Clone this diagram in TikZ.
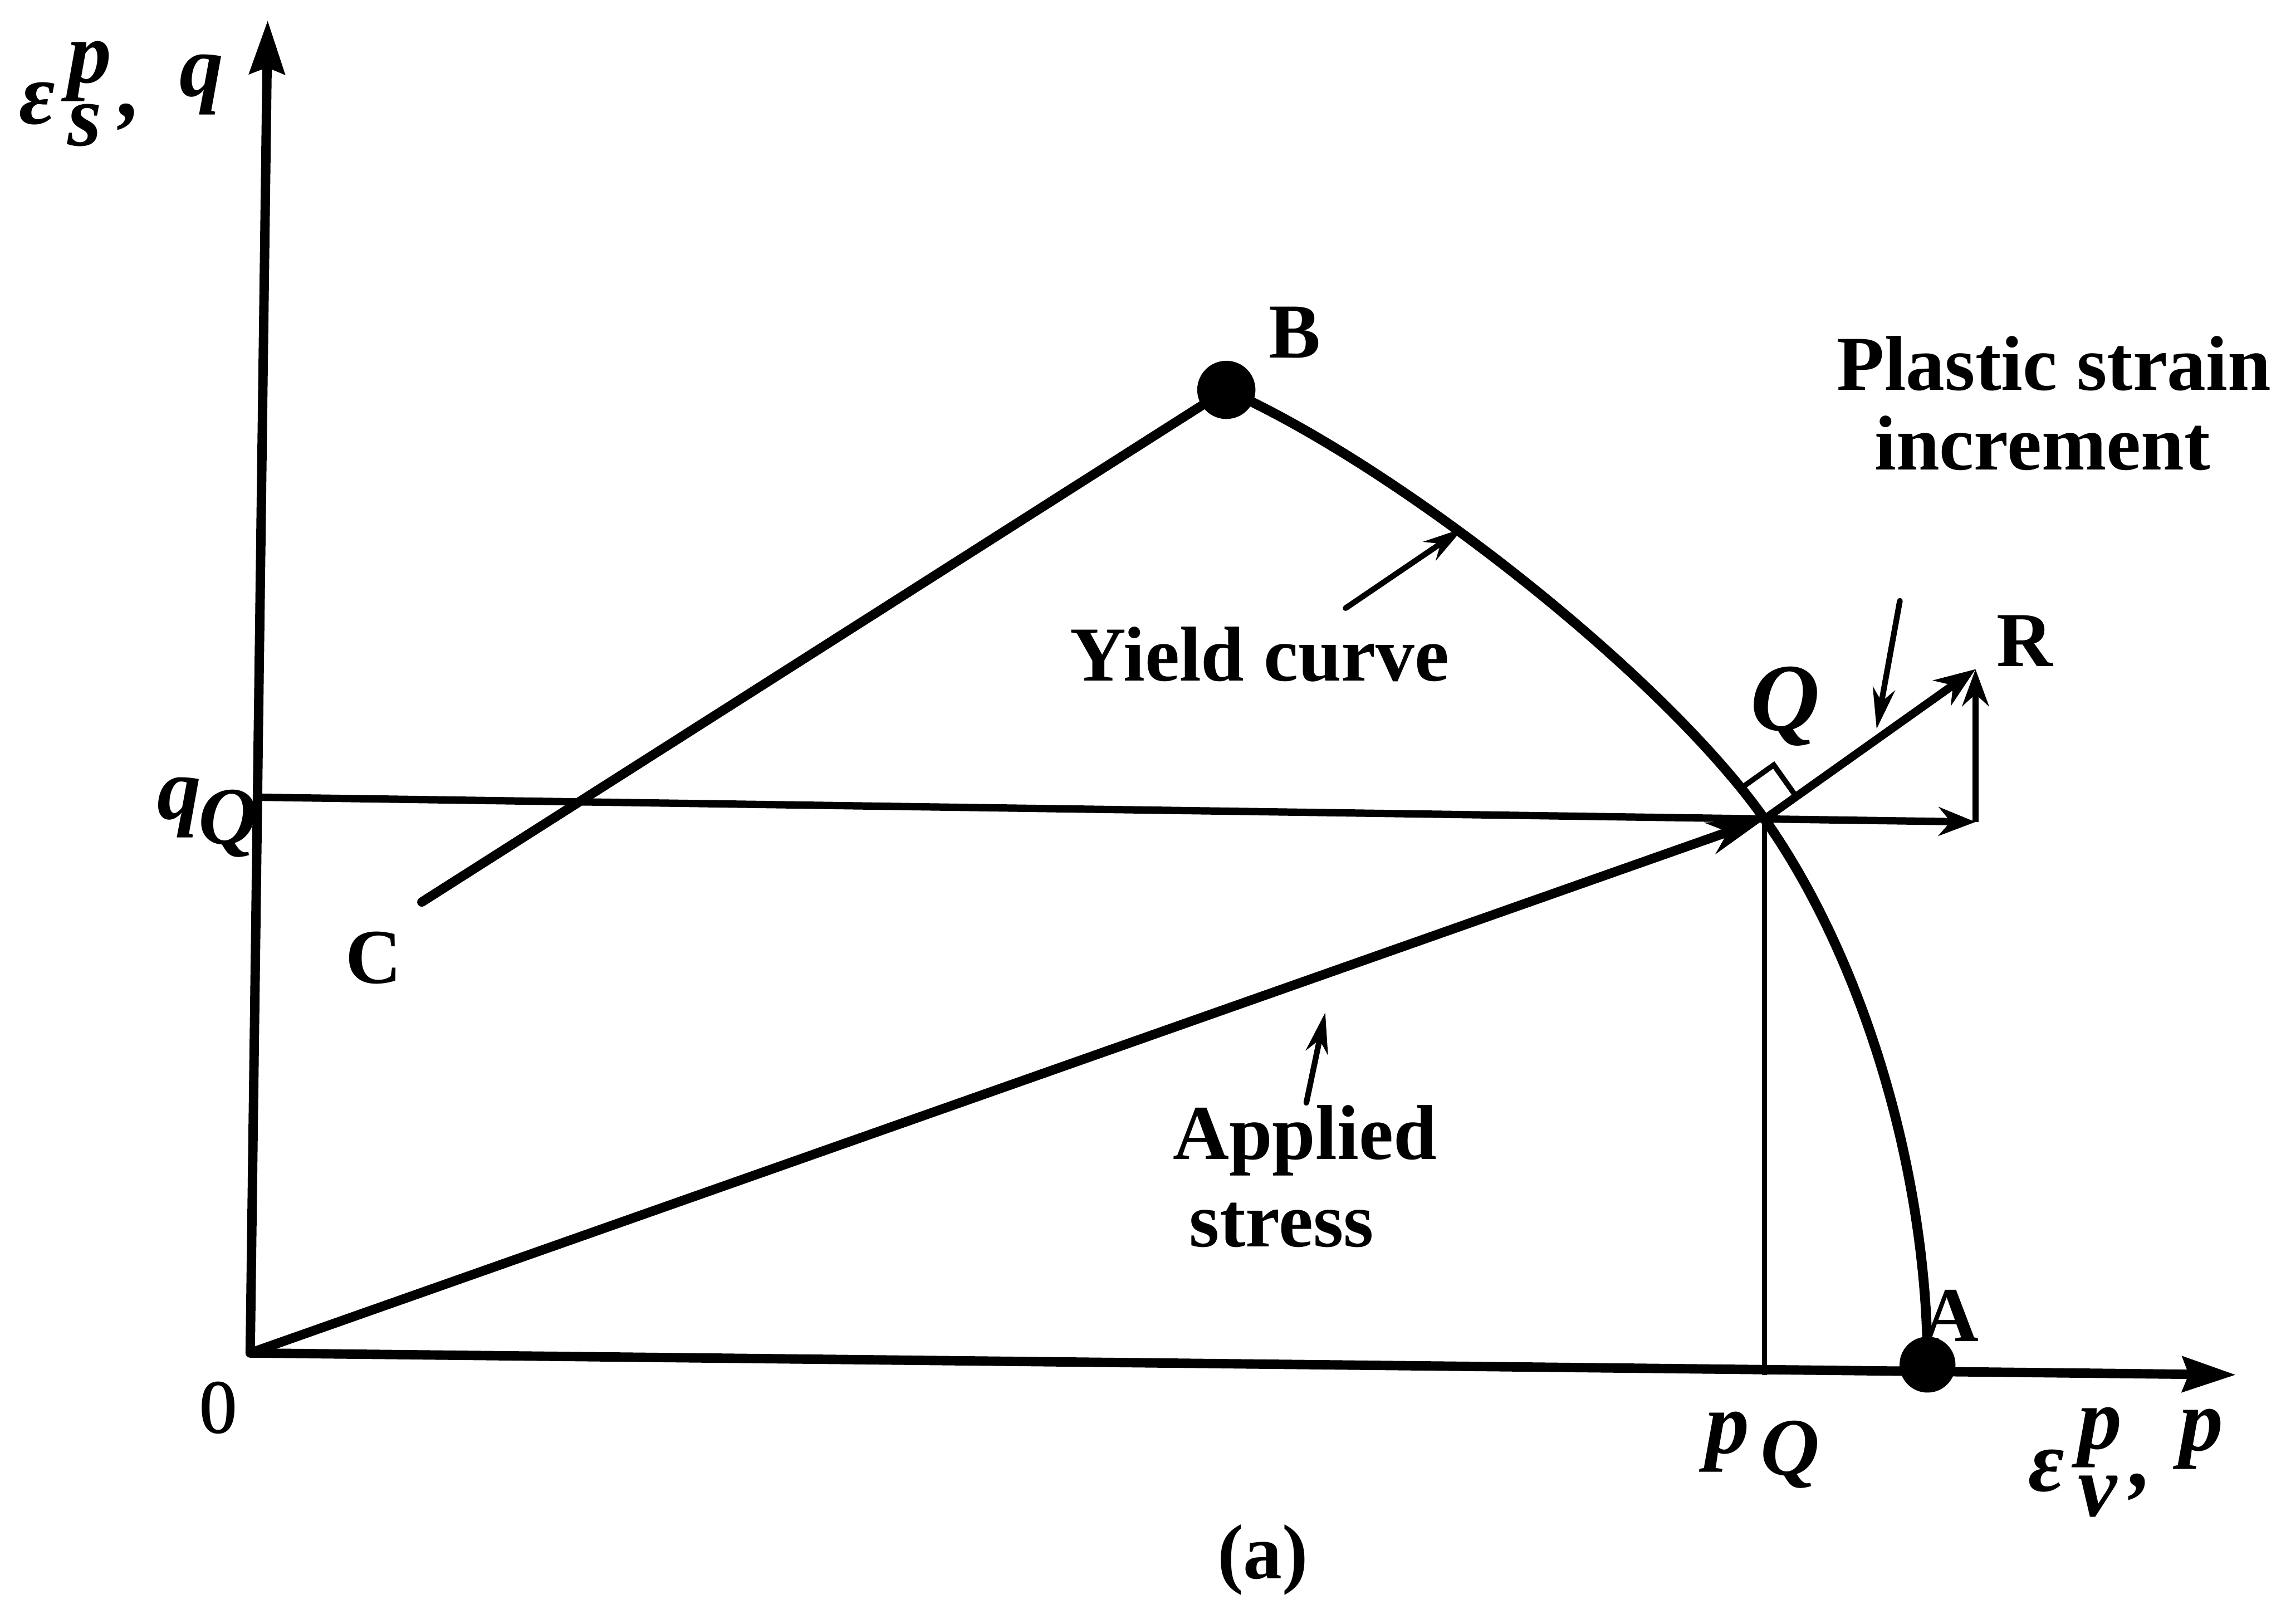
\documentclass[tikz,border=0pt]{standalone}
\usepackage{fontspec}
\setmainfont{Liberation Serif}
\usetikzlibrary{calc,arrows.meta}
\begin{document}
\begin{tikzpicture}[x=0.025cm,y=-0.025cm,
  lbl/.style={inner sep=0pt, font=\fontsize{38}{44}\selectfont\bfseries},
  mth/.style={inner sep=0pt, font=\fontsize{43}{48}\selectfont\bfseries\itshape},
  mthQ/.style={inner sep=0pt, font=\fontsize{47}{52}\selectfont\bfseries\itshape},
  mths/.style={inner sep=0pt, font=\fontsize{40}{44}\selectfont\bfseries\itshape},
  axisline/.style={line width=4.6pt, -{Stealth[length=26pt,width=17pt,inset=3pt]}},
  heavy/.style={line width=4.6pt, line cap=round},
  medium/.style={line width=3.6pt},
  thinline/.style={line width=2.6pt},
  note/.style={line width=2.8pt, line cap=round, -{Stealth[length=20pt,width=11pt]}},
]
\useasboundingbox (0,0) rectangle (1568,1116);
% key points
\coordinate (O) at (172,930);
\coordinate (Ytip) at (184,14);
\coordinate (Xtip) at (1537,945);
\coordinate (B) at (843,268);
\coordinate (A) at (1325,938);
\coordinate (Cend) at (290,620);
\coordinate (Q) at (1213,563);
\coordinate (R) at (1358,460);
\coordinate (qQ) at (178,548);
\coordinate (H) at (1358,565);
\coordinate (pQ) at (1213,945);
% axes
\draw[axisline] (O) -- (Ytip);
\draw[axisline] (O) -- (Xtip);
% line C-B and yield curve
\draw[heavy] (Cend) -- (B);
\draw[line width=4.8pt] (B) .. controls (962,321) and (1144,465) .. (Q)
  .. controls (1282,661) and (1325,808) .. (A);
% construction lines
\draw[medium, -{Stealth[length=18pt,width=14pt]}] (qQ) -- (H);
\draw[thinline] (Q) -- (pQ);
\draw[line width=3.2pt, -{Stealth[length=18pt,width=13pt]}] (H) -- (R);
\draw[line width=4pt, -{Stealth[length=20pt,width=15pt]}] (Q) -- (R);
\draw[heavy, -{Stealth[length=28pt,width=16pt]}] (O) -- (Q);
% right angle mark
\coordinate (m1) at ($(Q)!0.15!(R)$);
\coordinate (m3) at ($(Q)!0.15!90:(R)$);
\draw[thinline] (m1) -- ($(m1)+(m3)-(Q)$) -- (m3);
% dots
\fill (B) circle[radius=0.5cm];
\fill (A) circle[radius=0.48cm];
% annotation arrows
\coordinate (yS) at (925,418); \coordinate (yT) at (1006,363);
\coordinate (pS) at (1306,413); \coordinate (pT) at (1290,501);
\coordinate (aS) at (898,758); \coordinate (aT) at (911,696);
\draw[note] (yS) -- (yT);
\draw[note] (pS) -- (pT);
\draw[note] (aS) -- (aT);
% labels
\node[lbl, anchor=base] (tYield) at (866,468) {Yield curve};
\node[lbl, anchor=base] (tPl1) at (1412,268) {Plastic strain};
\node[lbl, anchor=base] (tPl2) at (1404,323) {increment};
\node[lbl, anchor=base] (tApp1) at (897,797) {Applied};
\node[lbl, anchor=base] (tApp2) at (881,857) {stress};
\node[lbl, anchor=base] (tB) at (890,246) {B};
\node[lbl, anchor=base] (tA) at (1341,922) {A};
\node[lbl, anchor=base] (tC) at (257,676) {C};
\node[lbl, anchor=base] (tR) at (1392,458) {R};
\node[lbl, anchor=base] (tO) at (150,985) {\scalebox{0.62}[1]{O}};
\node[lbl, anchor=base] (tCap) at (868,1085) {(a)};
% math labels
\node[mthQ, anchor=base west] (tQ) at (1203,502) {Q};
\node[mth, anchor=base west] (tq) at (108,563) {q};
\node[mths, anchor=base west] (tqs) at (136,580) {Q};
\node[mth, anchor=base west] (tp) at (1172,999) {p};
\node[mths, anchor=base west] (tps) at (1210,1014) {Q};
% y-axis label
\node[mth, anchor=base west] (e1) at (13,85)
  {\makebox[23.5pt][l]{ε}\makebox[25.5pt][l]{\rlap{\raisebox{19.9pt}{p}}\raisebox{-10.7pt}{s}}\raisebox{3.5pt}{,}};
\node[mth, anchor=base west] (e1q) at (123,66) {q};
% x-axis label
\node[mth, anchor=base west] (e2) at (1394,1025)
  {\makebox[24.2pt][l]{ε}\makebox[25.6pt][l]{\rlap{\raisebox{20.6pt}{p}}\raisebox{-12.1pt}{v}}\raisebox{2.1pt}{,}};
\node[mth, anchor=base west] (e2q) at (1498,997) {p};
\end{tikzpicture}
\end{document}
